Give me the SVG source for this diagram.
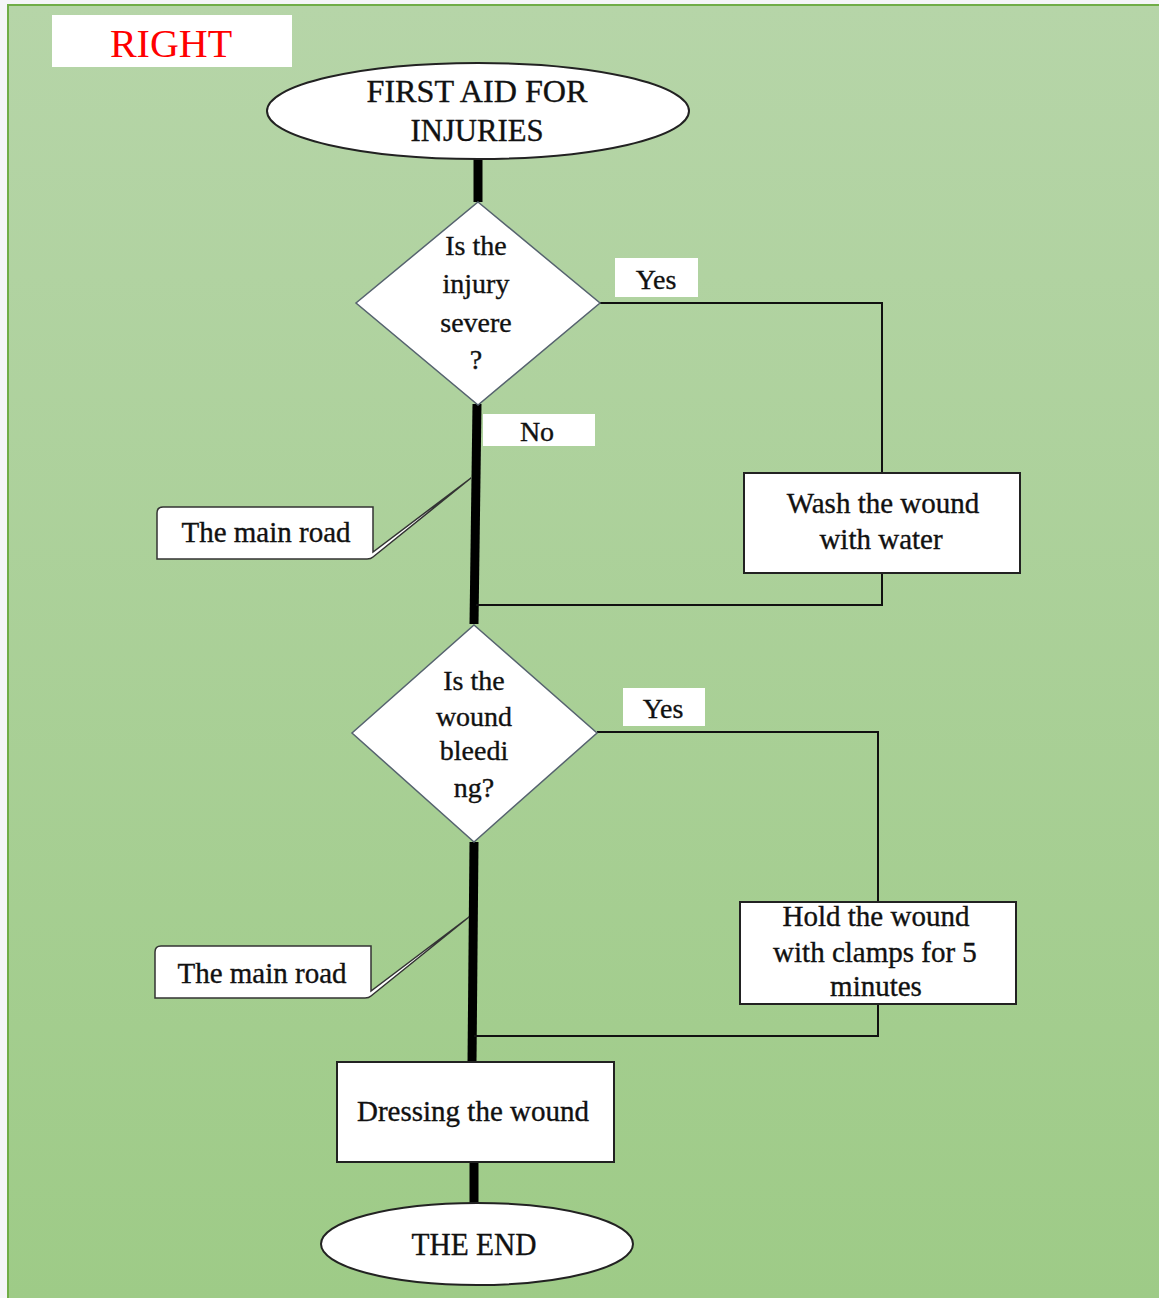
<svg xmlns="http://www.w3.org/2000/svg" width="1159" height="1298" viewBox="0 0 1159 1298" font-family="Liberation Serif, Times New Roman, serif">
<defs>
<linearGradient id="bg" x1="0" y1="0" x2="0" y2="1">
<stop offset="0" stop-color="#b6d5a8"/>
<stop offset="1" stop-color="#9ecb87"/>
</linearGradient>
<style>
text{font-family:'Liberation Serif',serif}
.t{font-size:28px;fill:#111;stroke:#111;stroke-width:0.35;text-anchor:middle}
.b{font-size:29px}
.box{fill:#fff;stroke:#222;stroke-width:2}
.dia{fill:#fff;stroke:#56636f;stroke-width:1.5}
.lab{fill:#fff;stroke:none}
.thin{fill:none;stroke:#111;stroke-width:2}
.thick{fill:none;stroke:#000;stroke-width:9}
.call{fill:#fff;stroke:#333;stroke-width:1.5}
</style>
</defs>
<rect x="0" y="0" width="1159" height="1298" fill="#f5f5f8"/>
<rect x="8" y="5" width="1152" height="1294" fill="url(#bg)" stroke="#70ad47" stroke-width="2"/>

<g id="title">
<rect x="52" y="15" width="240" height="52" fill="#fff"/>
<text x="171" y="57" class="t" style="font-size:40px;fill:#ff0000;stroke:none">RIGHT</text>
</g>

<g id="connectors">
<line class="thick" x1="478" y1="158" x2="478" y2="202"/>
<line class="thick" x1="477" y1="404" x2="474" y2="624"/>
<line class="thick" x1="474" y1="842" x2="472" y2="1063"/>
<line class="thick" x1="474" y1="1161" x2="474" y2="1204"/>
<polyline class="thin" points="600,303 882,303 882,473"/>
<polyline class="thin" points="882,573 882,605 476,605"/>
<polyline class="thin" points="597,732 878,732 878,902"/>
<polyline class="thin" points="878,1004 878,1036 474,1036"/>
</g>

<g id="start">
<ellipse cx="478" cy="111" rx="211" ry="48" class="box"/>
<text x="477" y="102" class="t" style="font-size:31px" textLength="221" lengthAdjust="spacingAndGlyphs">FIRST AID FOR</text>
<text x="477" y="141" class="t" style="font-size:31px" textLength="133" lengthAdjust="spacingAndGlyphs">INJURIES</text>
</g>

<g id="decision1">
<polygon class="dia" points="478,202 600,303 478,405 356,303"/>
<text x="476" y="255" class="t">Is the</text>
<text x="476" y="293" class="t">injury</text>
<text x="476" y="332" class="t">severe</text>
<text x="476" y="369" class="t">?</text>
</g>

<g id="yes1">
<rect x="615" y="258" width="83" height="39" class="lab"/>
<text x="656" y="289" class="t">Yes</text>
</g>

<g id="no1">
<rect x="483" y="414" width="112" height="32" class="lab"/>
<text x="537" y="441" class="t">No</text>
</g>

<g id="wash">
<rect x="744" y="473" width="276" height="100" class="box"/>
<text x="883" y="513" class="t b">Wash the wound</text>
<text x="881" y="549" class="t b">with water</text>
</g>

<g id="callout1">
<path class="call" d="M163,507 H373 V552 L471,478 L373,557 Q371,559 367,559 H157 V513 Q157,507 163,507 Z"/>
<text x="266" y="542" class="t b">The main road</text>
</g>

<g id="decision2">
<polygon class="dia" points="474,625 597,733 474,842 352,733"/>
<text x="474" y="690" class="t">Is the</text>
<text x="474" y="726" class="t">wound</text>
<text x="474" y="760" class="t">bleedi</text>
<text x="474" y="797" class="t">ng?</text>
</g>

<g id="yes2">
<rect x="623" y="688" width="82" height="38" class="lab"/>
<text x="663" y="718" class="t">Yes</text>
</g>

<g id="hold">
<rect x="740" y="902" width="276" height="102" class="box"/>
<text x="876" y="926" class="t b">Hold the wound</text>
<text x="875" y="962" class="t b">with clamps for 5</text>
<text x="876" y="996" class="t b">minutes</text>
</g>

<g id="callout2">
<path class="call" d="M161,946 H371 V991 L469,917 L371,996 Q369,998 365,998 H155 V952 Q155,946 161,946 Z"/>
<text x="262" y="983" class="t b">The main road</text>
</g>

<g id="dressing">
<rect x="337" y="1062" width="277" height="100" class="box"/>
<text x="473" y="1121" class="t b">Dressing the wound</text>
</g>

<g id="end">
<ellipse cx="477" cy="1244" rx="156" ry="41" class="box"/>
<text x="474" y="1255" class="t" style="font-size:31px" textLength="125" lengthAdjust="spacingAndGlyphs">THE END</text>
</g>
</svg>
